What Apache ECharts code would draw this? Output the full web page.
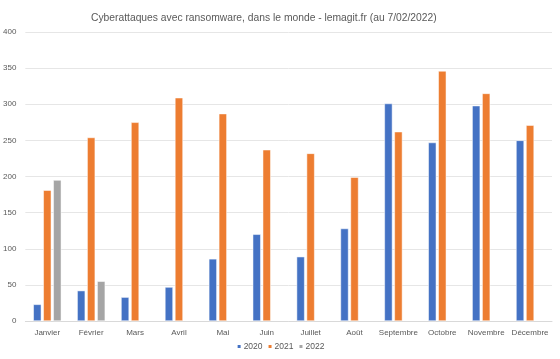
<!DOCTYPE html>
<html><head><meta charset="utf-8">
<script src="https://cdn.jsdelivr.net/npm/echarts@6/dist/echarts.min.js"></script>
<style>html,body{margin:0;padding:0;background:#fff}#c{width:560px;height:359px}</style>
</head><body><div id="c"></div>
<script>
const categories = ['Janvier','Février','Mars','Avril','Mai','Juin','Juillet','Août','Septembre','Octobre','Novembre','Décembre'];
const s2020 = [23,42,33,47,86,120,89,128,301,247,298,250];
const s2021 = [181,254,275,309,287,237,232,199,262,346,315,271];
const s2022 = [195,55,null,null,null,null,null,null,null,null,null,null];
const yTicks = [0,50,100,150,200,250,300,350,400];

const font = 'Liberation Sans';
const txt = '#595959';
const chart = echarts.init(document.getElementById('c'), null, {renderer:'canvas'});
function bar(name, data, color){
  return {name, type:'bar', data, barWidth:8, barGap:'25%',
    itemStyle:{color, borderColor:'#fff', borderWidth:0.5}};
}
chart.setOption({
  animation:false,
  title:{text:'Cyberattaques avec ransomware, dans le monde - lemagit.fr (au 7/02/2022)',
    left:86, top:8, textStyle:{fontFamily:font, fontSize:10.3, fontWeight:'normal', color:txt}},
  grid:{left:25, right:8, top:32, bottom:38},
  legend:{bottom:3, left:'center', itemWidth:5, itemHeight:5, itemGap:4, icon:'rect',
    textStyle:{fontFamily:font, fontSize:8.5, color:txt, padding:[0,0,0,-3]}},
  xAxis:{type:'category', data:categories,
    axisLine:{lineStyle:{color:'#d9d9d9'}}, axisTick:{show:false},
    axisLabel:{fontFamily:font, fontSize:8, color:txt, margin:8, interval:0}},
  yAxis:{type:'value', min:yTicks[0], max:yTicks[yTicks.length-1], interval:50,
    axisLine:{show:false}, axisTick:{show:false},
    splitLine:{lineStyle:{color:'#e6e6e6'}},
    axisLabel:{fontFamily:font, fontSize:8, color:txt, margin:9}},
  series:[bar('2020',s2020,'#4472C4'), bar('2021',s2021,'#ED7D31'), bar('2022',s2022,'#A5A5A5')]
});
</script></body></html>
